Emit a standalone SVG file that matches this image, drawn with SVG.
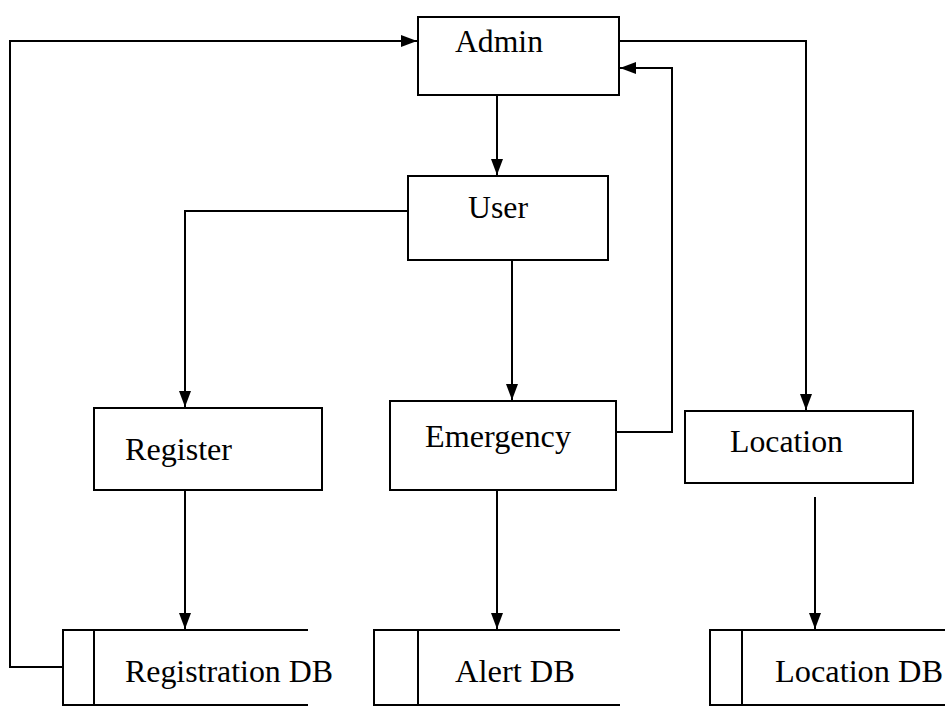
<svg xmlns="http://www.w3.org/2000/svg" width="945" height="706" viewBox="0 0 945 706">
  <style>
    .box { fill: #ffffff; stroke: #000000; stroke-width: 2; }
    .db { fill: none; stroke: #000000; stroke-width: 2; }
    .wire { fill: none; stroke: #000000; stroke-width: 2; }
    .label { font-family: 'Liberation Serif', 'DejaVu Serif', 'Times New Roman', serif; font-size: 31px; fill: #000000; }
  </style>
  <defs>
    <marker id="arrow" markerWidth="16" markerHeight="12" refX="16" refY="6" orient="auto" markerUnits="userSpaceOnUse">
      <path d="M0,0 L16,6 L0,12 Z" fill="#000000"/>
    </marker>
  </defs>
  <rect width="945" height="706" fill="#ffffff"/>

  <g id="connectors">
    <!-- Registration DB back up to Admin -->
    <polyline class="wire" points="63,667 10,667 10,41 417,41" marker-end="url(#arrow)"/>
    <!-- Admin to Location -->
    <polyline class="wire" points="619,41 806,41 806,410" marker-end="url(#arrow)"/>
    <!-- Emergency back to Admin -->
    <polyline class="wire" points="616,432 672,432 672,68 620,68" marker-end="url(#arrow)"/>
    <!-- Admin to User -->
    <line class="wire" x1="497" y1="95" x2="497" y2="175" marker-end="url(#arrow)"/>
    <!-- User to Register -->
    <polyline class="wire" points="408,211 185,211 185,407" marker-end="url(#arrow)"/>
    <!-- User to Emergency -->
    <line class="wire" x1="512" y1="260" x2="512" y2="400" marker-end="url(#arrow)"/>
    <!-- Register to Registration DB -->
    <line class="wire" x1="185" y1="490" x2="185" y2="629" marker-end="url(#arrow)"/>
    <!-- Emergency to Alert DB -->
    <line class="wire" x1="497" y1="490" x2="497" y2="629" marker-end="url(#arrow)"/>
    <!-- Location to Location DB -->
    <line class="wire" x1="815" y1="497" x2="815" y2="629" marker-end="url(#arrow)"/>
  </g>

  <g id="admin">
    <rect class="box" x="418" y="17" width="201" height="78"/>
    <text class="label" x="455" y="52" textLength="88" lengthAdjust="spacingAndGlyphs">Admin</text>
  </g>
  <g id="user">
    <rect class="box" x="408" y="176" width="200" height="84"/>
    <text class="label" x="468" y="218" textLength="60" lengthAdjust="spacingAndGlyphs">User</text>
  </g>
  <g id="register">
    <rect class="box" x="94" y="408" width="228" height="82"/>
    <text class="label" x="125" y="460" textLength="107" lengthAdjust="spacingAndGlyphs">Register</text>
  </g>
  <g id="emergency">
    <rect class="box" x="390" y="401" width="226" height="89"/>
    <text class="label" x="425" y="447" textLength="146" lengthAdjust="spacingAndGlyphs">Emergency</text>
  </g>
  <g id="location">
    <rect class="box" x="685" y="411" width="228" height="72"/>
    <text class="label" x="730" y="452" textLength="113" lengthAdjust="spacingAndGlyphs">Location</text>
  </g>

  <g id="registration-db">
    <path class="db" d="M308,630 H63 V706 M94,630 V706 M63,705 H308"/>
    <text class="label" x="125" y="682" textLength="208" lengthAdjust="spacingAndGlyphs">Registration DB</text>
  </g>
  <g id="alert-db">
    <path class="db" d="M620,630 H374 V706 M418,630 V706 M374,705 H620"/>
    <text class="label" x="455" y="682" textLength="120" lengthAdjust="spacingAndGlyphs">Alert DB</text>
  </g>
  <g id="location-db">
    <path class="db" d="M945,630 H710 V706 M742,630 V706 M710,705 H945"/>
    <text class="label" x="775" y="682" textLength="168" lengthAdjust="spacingAndGlyphs">Location DB</text>
  </g>
</svg>
